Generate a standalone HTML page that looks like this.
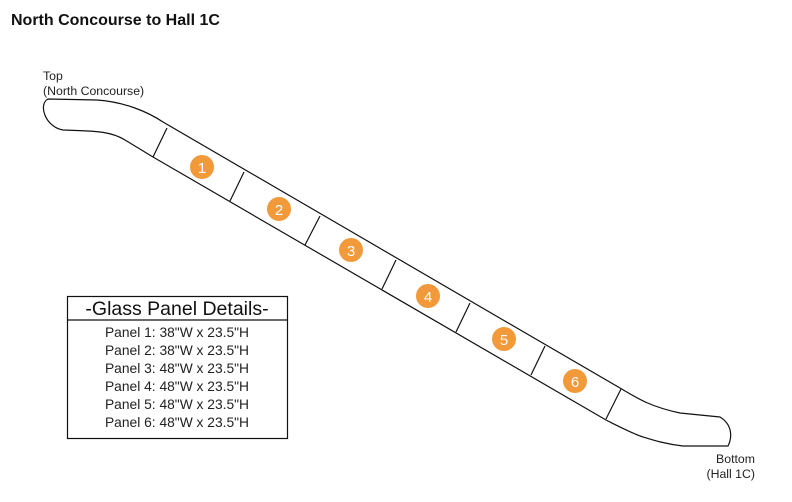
<!DOCTYPE html>
<html><head><meta charset="utf-8"><style>
html,body{margin:0;padding:0;background:#fff;}
body{width:792px;height:502px;overflow:hidden;}
svg{display:block;}
text{font-family:"Liberation Sans",Arial,sans-serif;}
</style></head><body>
<svg width="792" height="502" viewBox="0 0 792 502">
<text x="11" y="25" font-size="16" font-weight="bold" fill="#111">North Concourse to Hall 1C</text>
<text x="43" y="80" font-size="12.3" fill="#222">Top</text>
<text x="43" y="95" font-size="12.3" fill="#222">(North Concourse)</text>
<text x="755" y="463" font-size="12.3" fill="#222" text-anchor="end">Bottom</text>
<text x="755" y="478" font-size="12.3" fill="#222" text-anchor="end">(Hall 1C)</text>
<path d="M48,99 L97,100 C125,102 148,112 163,122 L620,388 C640,400 652,407 680,413 L720,417 C733,425 732,438 728,446 L683,446 C665,444 653,440 640,436 C625,430 614,424 606,420 L153,157 L125,140 C112,132 100,131 63,130 C45,127 38,104 48,99 Z" fill="none" stroke="#111" stroke-width="1.2"/>
<g stroke="#111" stroke-width="1.2">
<line x1="167" y1="128" x2="153" y2="157"/>
<line x1="244" y1="172" x2="230" y2="201"/>
<line x1="320" y1="216" x2="305" y2="245"/>
<line x1="396" y1="260" x2="382" y2="289"/>
<line x1="470" y1="303" x2="456" y2="332"/>
<line x1="545" y1="346" x2="531" y2="375"/>
<line x1="621" y1="389" x2="606" y2="419"/>
</g>
<g fill="#f29a3a">
<circle cx="202" cy="167" r="12"/><circle cx="279" cy="209" r="12"/><circle cx="351" cy="250" r="12"/>
<circle cx="428" cy="296" r="12"/><circle cx="504" cy="339" r="12"/><circle cx="575" cy="381" r="12"/>
</g>
<g fill="#fff" font-size="15" text-anchor="middle">
<text x="202" y="173">1</text><text x="279" y="215">2</text><text x="351" y="256">3</text>
<text x="428" y="302">4</text><text x="504" y="345">5</text><text x="575" y="387">6</text>
</g>
<rect x="67.5" y="296.5" width="220" height="142" fill="none" stroke="#111" stroke-width="1.2"/>
<line x1="67.5" y1="320" x2="287.5" y2="320" stroke="#111" stroke-width="1.2"/>
<text x="177" y="315" font-size="19.5" text-anchor="middle" fill="#111">-Glass Panel Details-</text>
<g font-size="13.8" fill="#222" text-anchor="middle">
<text x="177" y="337">Panel 1: 38"W x 23.5"H</text>
<text x="177" y="355">Panel 2: 38"W x 23.5"H</text>
<text x="177" y="373">Panel 3: 48"W x 23.5"H</text>
<text x="177" y="391">Panel 4: 48"W x 23.5"H</text>
<text x="177" y="409">Panel 5: 48"W x 23.5"H</text>
<text x="177" y="427">Panel 6: 48"W x 23.5"H</text>
</g>
</svg>
</body></html>
